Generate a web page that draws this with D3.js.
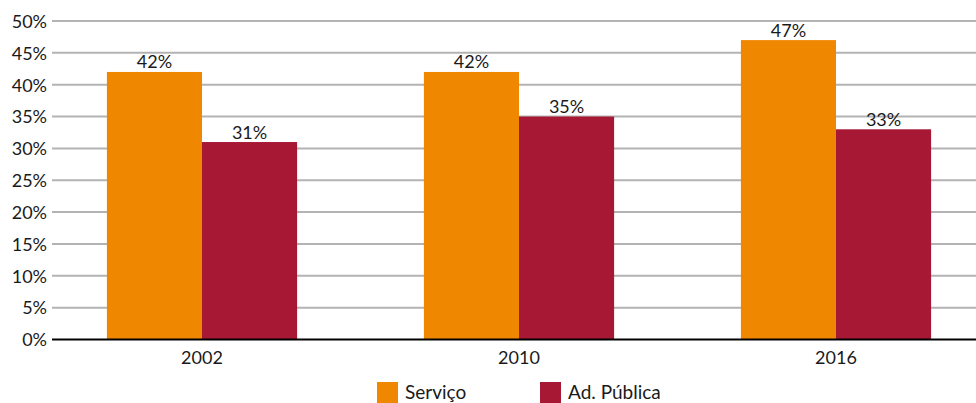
<!DOCTYPE html>
<html>
<head>
<meta charset="utf-8">
<script src="https://cdn.jsdelivr.net/npm/d3@7"></script>
<style>
  html, body { margin: 0; padding: 0; background: #fff; }
  svg { display: block; }
  text { font-family: Lato, "Open Sans", sans-serif; fill: #1a1a1a; }
</style>
</head>
<body>
<svg id="chart" width="976" height="403"></svg>
<script>
// Chart data
const years = ["2002", "2010", "2016"];
const seriesNames = ["Serviço", "Ad. Pública"];
const servico = [0.42, 0.42, 0.47];
const adPublica = [0.31, 0.35, 0.33];
const yTicks = [0, 0.05, 0.10, 0.15, 0.20, 0.25, 0.30, 0.35, 0.40, 0.45, 0.50];
const colors = ["#F08700", "#A71834"];

const svg = d3.select("#chart");
const plotLeft = 52, plotRight = 976, plotTop = 21, plotBottom = 339.5;

const y = d3.scaleLinear().domain([0, 0.5]).range([plotBottom, plotTop]);
const x = d3.scaleBand().domain(years).range([43.5, 994.5])
  .paddingInner(0.4).paddingOuter(0.2);
const xs = d3.scaleBand().domain(seriesNames).range([0, x.bandwidth()]);

const pct = d3.format(".0%");

// Horizontal gridlines
svg.append("g").selectAll("line")
  .data(yTicks.filter(d => d > 0))
  .join("line")
  .attr("x1", plotLeft).attr("x2", plotRight)
  .attr("y1", d => y(d)).attr("y2", d => y(d))
  .attr("stroke", "#b3b3b3").attr("stroke-width", 2);

// Y tick labels
svg.append("g").selectAll("text")
  .data(yTicks)
  .join("text")
  .attr("x", 47).attr("y", d => y(d))
  .attr("dy", "0.38em")
  .attr("text-anchor", "end")
  .attr("font-size", 18)
  .text(d => pct(d));

// Bars grouped by year
const rows = years.map((yr, i) => ({ year: yr, values: [servico[i], adPublica[i]] }));
const groups = svg.append("g").selectAll("g")
  .data(rows)
  .join("g")
  .attr("transform", d => `translate(${x(d.year)},0)`);

groups.selectAll("rect")
  .data(d => d.values.map((v, j) => ({ name: seriesNames[j], v, j })))
  .join("rect")
  .attr("x", d => xs(d.name))
  .attr("width", xs.bandwidth())
  .attr("y", d => y(d.v))
  .attr("height", d => y(0) - y(d.v))
  .attr("fill", d => colors[d.j]);

// Value labels
groups.selectAll("text")
  .data(d => d.values.map((v, j) => ({ name: seriesNames[j], v, j })))
  .join("text")
  .attr("x", d => xs(d.name) + xs.bandwidth() / 2)
  .attr("y", d => y(d.v) - 3.5)
  .attr("text-anchor", "middle")
  .attr("font-size", 18)
  .text(d => pct(d.v));

// Baseline axis
svg.append("line")
  .attr("x1", plotLeft).attr("x2", plotRight)
  .attr("y1", y(0)).attr("y2", y(0))
  .attr("stroke", "#000").attr("stroke-width", 2);

// X labels
svg.append("g").selectAll("text")
  .data(years)
  .join("text")
  .attr("x", d => x(d) + x.bandwidth() / 2)
  .attr("y", 364)
  .attr("text-anchor", "middle")
  .attr("font-size", 18)
  .text(d => d);

// Legend
const legendItems = [
  { name: seriesNames[0], color: colors[0], x: 377 },
  { name: seriesNames[1], color: colors[1], x: 540 }
];
const lg = svg.append("g").selectAll("g")
  .data(legendItems)
  .join("g")
  .attr("transform", d => `translate(${d.x},382)`);
lg.append("rect")
  .attr("width", 21).attr("height", 21)
  .attr("fill", d => d.color);
lg.append("text")
  .attr("x", 28).attr("y", 17)
  .attr("font-size", 19)
  .text(d => d.name);
</script>
</body>
</html>
